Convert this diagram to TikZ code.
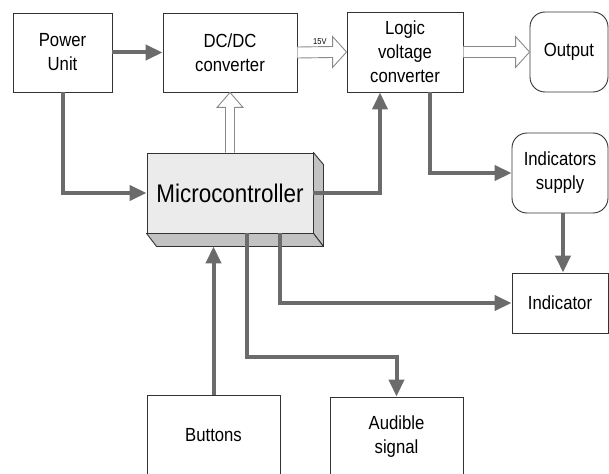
\documentclass[tikz,border=0pt]{standalone}
\usepackage{fontspec}
\setmainfont{Liberation Sans}[FakeStretch=0.88]
\usetikzlibrary{arrows.meta,calc}
\definecolor{boxline}{HTML}{333333}
\definecolor{wiregray}{HTML}{6B6B6B}
\definecolor{hollowgray}{HTML}{8A8A8A}
\definecolor{faceface}{HTML}{EBEBEB}
\definecolor{sideface}{HTML}{C2C2C2}
\begin{document}
\begin{tikzpicture}[x=1pt,y=-1pt,
  box/.style={draw=boxline, line width=0.9pt, fill=white, align=center,
    font=\fontsize{19}{24}\selectfont, inner sep=0pt},
  roundbox/.style={box, rounded corners=15pt},
  wire/.style={draw=wiregray, line width=4pt},
  feed/.style={wire, -{Triangle[length=17pt,width=15pt]}},
  hollow/.style={draw=hollowgray, line width=0.9pt, fill=white, line join=miter},
]
\path[use as bounding box] (0,0) rectangle (609,473);
\clip (0,0) rectangle (609,473);

% blocks
\node[box, minimum width=99pt, minimum height=79pt] (pu) at (62.5,52.5) {Power\\Unit};
\node[box, minimum width=134pt, minimum height=79pt] (dc) at (230,52.5) {DC/DC\\converter};
\node[box, minimum width=116pt, minimum height=80pt] (lg) at (405,52) {Logic\\voltage\\converter};
\node[roundbox, minimum width=78pt, minimum height=80pt] (out) at (569,52) {Output};
\node[roundbox, minimum width=96pt, minimum height=80pt] (is) at (560,173) {Indicators\\supply};
\node[box, minimum width=96pt, minimum height=60pt] (ind) at (560,303) {Indicator};
\node[box, minimum width=133pt, minimum height=80pt] (bt) at (213.5,435) {Buttons};
\node[box, minimum width=133pt, minimum height=80pt] (au) at (396.5,437) {Audible\\signal};

% microcontroller drawn as a raised block
\node[box, fill=faceface, minimum width=166pt, minimum height=80pt,
  font=\fontsize{25.5}{30}\selectfont] (mc) at (230,193) {Microcontroller};
\draw[draw=boxline, line width=0.9pt, fill=sideface, line join=round]
  (mc.north east) -- ($(mc.north east)+(10,12)$) -- ($(mc.south east)+(10,13)$)
  -- (mc.south east) -- cycle;
\draw[draw=boxline, line width=0.9pt, fill=sideface, line join=round]
  (mc.south west) -- (mc.south east) -- ($(mc.south east)+(10,13)$)
  -- ($(mc.south west)+(10,13)$) -- cycle;
\coordinate (mcbase) at ($(mc.south)+(0,13)$);

% hollow power arrows
\draw[hollow] ($(dc.east)+(0,-5.5)$) -- ($(lg.west)+(-14,-5.5)$) -- ($(lg.west)+(-14,-15.5)$)
  -- (lg.west) -- ($(lg.west)+(-14,15.5)$) -- ($(lg.west)+(-14,5.5)$) -- ($(dc.east)+(0,5.5)$);
\draw[hollow] ($(lg.east)+(0,-5.5)$) -- ($(out.west)+(-14,-5.5)$) -- ($(out.west)+(-14,-15.5)$)
  -- (out.west) -- ($(out.west)+(-14,15.5)$) -- ($(out.west)+(-14,5.5)$) -- ($(lg.east)+(0,5.5)$);
\draw[hollow] ($(mc.north)+(-4.5,0)$) -- ($(dc.south)+(-4.5,15)$) -- ($(dc.south)+(-13,15)$)
  -- (dc.south) -- ($(dc.south)+(13,15)$) -- ($(dc.south)+(4.5,15)$) -- ($(mc.north)+(4.5,0)$);
\node[anchor=base west, inner sep=0pt, font=\fontsize{8.5}{10}\selectfont] (v15) at (313,45) {15V};

% signal wires
\draw[feed] (pu.east) -- (dc.west);
\draw[feed] (pu.south) |- (mc.west);
\draw[feed] (mc.east) -| ([xshift=-25pt]lg.south);
\draw[feed] ([xshift=25pt]lg.south) |- (is.west);
\draw[feed] ([xshift=3pt]is.south) -- ([xshift=3pt]ind.north);
\draw[feed] ([xshift=50pt]mc.south) |- (ind.west);
\draw[feed] ([xshift=17pt]mc.south) |- ($(au.north)+(0,-40)$) -- (au.north);
\draw[feed] (bt.north) -- (bt.north |- mcbase);
\end{tikzpicture}
\end{document}
